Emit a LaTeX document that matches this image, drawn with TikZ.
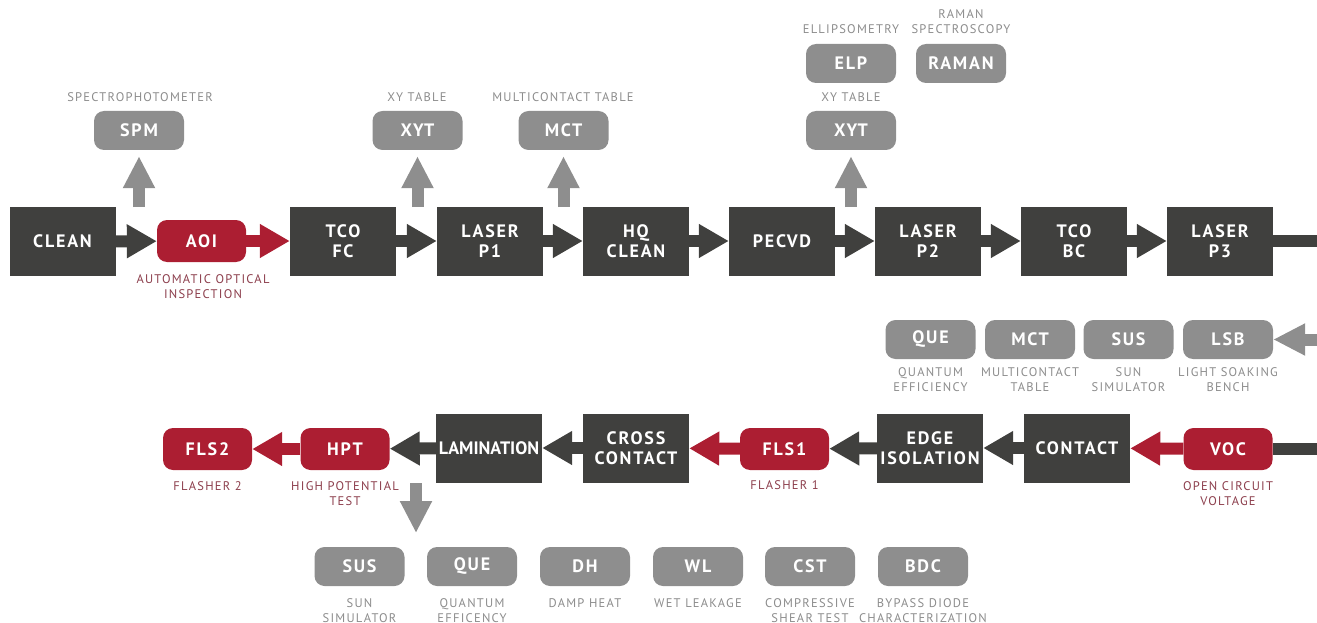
\documentclass[tikz,border=0pt]{standalone}
\usepackage{fontspec}
\setmainfont{PT Sans}
\newfontfamily\boxfont[LetterSpace=10]{PT Sans}
\newfontfamily\lblfont[LetterSpace=10]{PT Sans}
\usetikzlibrary{arrows.meta}
\definecolor{dark}{RGB}{64,64,62}
\definecolor{lgray}{RGB}{142,142,142}
\definecolor{rred}{RGB}{172,30,50}
\definecolor{rtext}{RGB}{140,62,76}
\definecolor{gtext}{RGB}{140,140,140}
\tikzset{
  procbox/.style={fill=dark, text=white, minimum width=106pt, minimum height=69pt, inner sep=0pt, align=center, font=\boxfont\bfseries\fontsize{18}{20}\selectfont},
  redbox/.style={fill=rred, text=white, rounded corners=10pt, minimum width=89pt, minimum height=42pt, inner sep=0pt, font=\boxfont\bfseries\fontsize{18}{20}\selectfont},
  graybox/.style={fill=lgray, text=white, rounded corners=10pt, minimum width=90pt, minimum height=39pt, inner sep=0pt, font=\boxfont\bfseries\fontsize{18}{20}\selectfont},
  glbl/.style={text=gtext, align=center, inner sep=0pt, font=\lblfont\fontsize{12.5}{15}\selectfont},
  rlbl/.style={text=rtext, align=center, inner sep=0pt, font=\lblfont\fontsize{12.5}{15}\selectfont},
  darr/.style={draw=dark, line width=12pt, -{Triangle[length=30pt,width=32pt]}},
  rarr/.style={draw=rred, line width=12pt, -{Triangle[length=30pt,width=32pt]}},
  garr/.style={draw=lgray, line width=12pt, -{Triangle[length=32pt,width=30pt]}},
  dline/.style={draw=dark, line width=12pt},
}
\begin{document}
\begin{tikzpicture}[x=1pt,y=-1pt]
\useasboundingbox (0,0) rectangle (1317,623);
% top row
\node[procbox] (clean) at (62.5,241.5) {CLEAN};
\node[redbox] (aoi) at (201.5,241) {AOI};
\node[procbox] (tcofc) at (343,241) {TCO\\FC};
\node[procbox] (lp1) at (490,241) {LASER\\P1};
\node[procbox] (hq) at (636,241) {HQ\\CLEAN};
\node[procbox] (pecvd) at (782,241) {PECVD};
\node[procbox] (lp2) at (928,241) {LASER\\P2};
\node[procbox] (tcobc) at (1074,241) {TCO\\BC};
\node[procbox] (lp3) at (1220,241) {LASER\\P3};
\coordinate (r1) at (1317,241);
% top gray
\node[graybox] (spm) at (139,130.5) {SPM};
\node[graybox] (xyt1) at (417.5,130.5) {XYT};
\node[graybox] (mct1) at (563.5,130.5) {MCT};
\node[graybox] (xyt2) at (851,130.5) {XYT};
\node[graybox] (elp) at (851,63.5) {ELP};
\node[graybox] (raman) at (961,63.5) {RAMAN};
\node[glbl] (lspm) at (140,97.5) {SPECTROPHOTOMETER};
\node[glbl] (lxyt1) at (417,97.5) {XY TABLE};
\node[glbl] (lmct1) at (563,97.5) {MULTICONTACT TABLE};
\node[glbl] (lxyt2) at (851,97.5) {XY TABLE};
\node[glbl] (lelp) at (851,29.5) {ELLIPSOMETRY};
\node[glbl] (lraman) at (961,22) {RAMAN\\SPECTROSCOPY};
\node[rlbl, anchor=north] (laoi) at (203,274) {AUTOMATIC OPTICAL\\INSPECTION};
% arrows top
\draw[darr] (clean) -- (aoi);
\draw[rarr] (aoi) -- (tcofc);
\draw[darr] (tcofc) -- (lp1);
\draw[darr] (lp1) -- (hq);
\draw[darr] (hq) -- (pecvd);
\draw[darr] (pecvd) -- (lp2);
\draw[darr] (lp2) -- (tcobc);
\draw[darr] (tcobc) -- (lp3);
\draw[dline] (lp3.east) -- (r1);
\coordinate (u1) at (139,207);
\coordinate (u2) at (417.5,207);
\coordinate (u3) at (563.5,207);
\coordinate (u4) at (851,207);
\draw[garr,shorten >=6pt] (u1) -- (spm.south);
\draw[garr,shorten >=6pt] (u2) -- (xyt1.south);
\draw[garr,shorten >=6pt] (u3) -- (mct1.south);
\draw[garr,shorten >=6pt] (u4) -- (xyt2.south);
% middle gray
\node[graybox] (que1) at (930.5,339.5) {QUE};
\node[graybox] (mct2) at (1030,339.5) {MCT};
\node[graybox] (sus1) at (1128.5,339.5) {SUS};
\node[graybox] (lsb) at (1228,339.5) {LSB};
\node[glbl, anchor=north] (lque1) at (930.5,367) {QUANTUM\\EFFICIENCY};
\node[glbl, anchor=north] (lmct2) at (1030,367) {MULTICONTACT\\TABLE};
\node[glbl, anchor=north] (lsus1) at (1128.5,367) {SUN\\SIMULATOR};
\node[glbl, anchor=north] (llsb) at (1228,367) {LIGHT SOAKING\\BENCH};
\coordinate (r2) at (1317,339.5);
\draw[garr] (r2) -- (lsb);
% bottom row
\node[redbox] (voc) at (1228,449) {VOC};
\node[procbox] (contact) at (1077,448) {CONTACT};
\node[procbox] (edge) at (930,448) {EDGE\\ISOLATION};
\node[redbox] (fls1) at (784.5,449) {FLS1};
\node[procbox] (cross) at (636,448) {CROSS\\CONTACT};
\node[procbox, font=\bfseries\fontsize{18}{20}\selectfont] (lam) at (489,448) {LAMINATION};
\node[redbox] (hpt) at (345,449) {HPT};
\node[redbox] (fls2) at (207.5,449) {FLS2};
\coordinate (r3) at (1317,449);
\draw[dline] (r3) -- (voc.east);
\draw[rarr] (voc) -- (contact);
\draw[darr] (contact) -- (edge);
\draw[darr] (edge) -- (fls1);
\draw[rarr] (fls1) -- (cross);
\draw[darr] (cross) -- (lam);
\draw[darr] (lam) -- (hpt);
\draw[rarr] (hpt) -- (fls2);
\node[rlbl, anchor=north] (lfls2) at (207.5,481) {FLASHER 2};
\node[rlbl, anchor=north] (lhpt) at (345,481) {HIGH POTENTIAL\\TEST};
\node[rlbl, anchor=north] (lfls1) at (784.5,480) {FLASHER 1};
\node[rlbl, anchor=north] (lvoc) at (1228,481) {OPEN CIRCUIT\\VOLTAGE};
% bottom gray
\node[graybox] (sus2) at (359.5,566.5) {SUS};
\node[graybox] (que2) at (472,566.5) {QUE};
\node[graybox] (dh) at (585,566.5) {DH};
\node[graybox] (wl) at (698,566.5) {WL};
\node[graybox] (cst) at (810,566.5) {CST};
\node[graybox] (bdc) at (923,566.5) {BDC};
\coordinate (d1) at (416,483);
\coordinate (d2) at (416,533);
\draw[garr] (d1) -- (d2);
\node[glbl, anchor=north] (lsus2) at (359.5,598) {SUN\\SIMULATOR};
\node[glbl, anchor=north] (lque2) at (472,598) {QUANTUM\\EFFICENCY};
\node[glbl, anchor=north] (ldh) at (585,598) {DAMP HEAT};
\node[glbl, anchor=north] (lwl) at (698,598) {WET LEAKAGE};
\node[glbl, anchor=north] (lcst) at (810,598) {COMPRESSIVE\\SHEAR TEST};
\node[glbl, anchor=north] (lbdc) at (923,598) {BYPASS DIODE\\CHARACTERIZATION};
\end{tikzpicture}
\end{document}
